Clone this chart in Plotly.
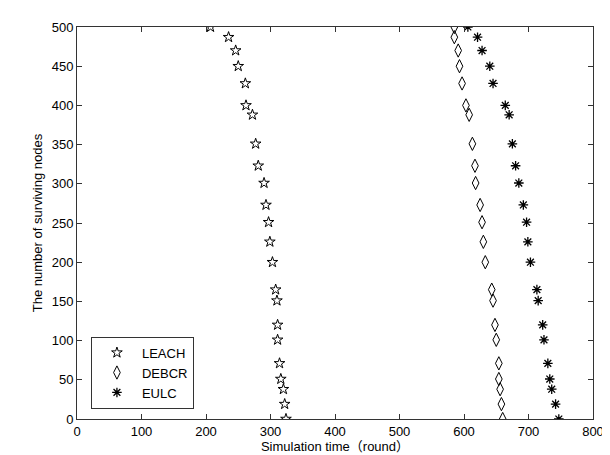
import plotly.graph_objects as go

nodes = [500, 487, 470, 450, 428, 400, 388, 351, 323, 301, 273, 251, 226, 200, 165, 151, 120, 101, 71, 51, 38, 19, 0]
leach = [207, 235, 246, 250, 261, 262, 272, 277, 281, 290, 293, 297, 299, 303, 308, 310, 311, 311, 314, 316, 320, 322, 324]
debcr = [585, 585, 591, 593, 597, 603, 608, 613, 617, 618, 625, 628, 630, 633, 643, 645, 648, 650, 654, 654, 656, 658, 660]
eulc = [606, 621, 628, 640, 645, 664, 670, 675, 680, 685, 692, 697, 699, 703, 713, 715, 722, 724, 730, 733, 736, 742, 747]

FONT = "Liberation Sans, Arial, Noto Sans CJK SC, sans-serif"

fig = go.Figure()
fig.add_trace(go.Scatter(x=leach, y=nodes, mode="markers", name="LEACH",
                         marker=dict(symbol="star-open", size=8, color="black", line=dict(width=1, color="black"))))
fig.add_trace(go.Scatter(x=debcr, y=nodes, mode="markers", name="DEBCR",
                         marker=dict(symbol="diamond-tall-open", size=9.5, color="black", line=dict(width=1, color="black"))))
fig.add_trace(go.Scatter(x=eulc, y=nodes, mode="markers", name="EULC",
                         marker=dict(symbol="asterisk-open", size=8, color="black", line=dict(width=1.3, color="black"))))

axis_common = dict(showline=True, linecolor="#333", linewidth=1, mirror="ticks",
                   ticks="inside", ticklen=5, tickcolor="#333", showgrid=False, zeroline=False,
                   tickfont=dict(family=FONT, size=13, color="black"))

fig.update_layout(
    width=610, height=455,
    margin=dict(l=69, r=25, t=15, b=44),
    paper_bgcolor="white", plot_bgcolor="white",
    font=dict(family=FONT, size=13, color="black"),
    xaxis=dict(range=[0, 800], tickvals=[0, 100, 200, 300, 400, 500, 600, 700, 800],
               title=dict(text="Simulation time（round）", font=dict(family=FONT, size=13), standoff=2),
               **axis_common),
    yaxis=dict(range=[0, 500], tickvals=[0, 50, 100, 150, 200, 250, 300, 350, 400, 450, 500],
               title=dict(text="The number of surviving nodes", font=dict(family=FONT, size=13), standoff=6),
               **axis_common),
    legend=dict(x=0.027, y=0.21, xanchor="left", yanchor="top", bordercolor="#333", borderwidth=1,
                bgcolor="white", font=dict(family=FONT, size=13), itemwidth=40, tracegroupgap=0),
    showlegend=True,
)

fig.write_html("out.html")
